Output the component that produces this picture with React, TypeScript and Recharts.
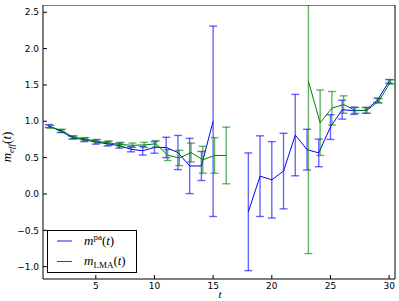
import { ComposedChart, Line, XAxis, YAxis, ErrorBar } from 'recharts';

// effective mass per time slice
const timeSlices = [1, 2, 3, 4, 5, 6, 7, 8, 9, 10, 11, 12, 13, 14, 15, 16, 17, 18, 19, 20, 21, 22, 23, 24, 25, 26, 27, 28, 29, 30];

const paMass = [0.935, 0.865, 0.775, 0.745, 0.715, 0.69, 0.665, 0.615, 0.595, 0.64, 0.64, 0.57, 0.385, 0.385, 1.0, null, null, -0.245, 0.245, 0.195, 0.315, 0.81, 0.61, 0.565, 0.92, 1.16, 1.145, 1.15, 1.29, 1.55];
const paError = [0.02, 0.02, 0.02, 0.025, 0.03, 0.03, 0.035, 0.035, 0.06, 0.08, 0.14, 0.235, 0.38, 0.2, 1.31, null, null, 0.81, 0.555, 0.525, 0.52, 0.56, 0.28, 0.19, 0.17, 0.13, 0.05, 0.04, 0.03, 0.025];

const lmaMass = [0.925, 0.87, 0.78, 0.755, 0.725, 0.7, 0.68, 0.67, 0.675, 0.69, 0.535, 0.495, 0.57, 0.47, 0.53, 0.53, null, null, null, null, null, null, 1.55, 0.98, 1.18, 1.23, 1.15, 1.15, 1.28, 1.54];
const lmaError = [0.02, 0.02, 0.02, 0.02, 0.025, 0.03, 0.03, 0.03, 0.035, 0.045, 0.075, 0.105, 0.13, 0.185, 0.245, 0.39, null, null, null, null, null, null, 2.37, 0.45, 0.23, 0.12, 0.04, 0.04, 0.03, 0.03];

const xTicks = [5, 10, 15, 20, 25, 30];
const yTicks = [-1, -0.5, 0, 0.5, 1, 1.5, 2, 2.5];

// the LMA points sit slightly to the right of the integer slices
const LMA_SHIFT = 0.12;

const paData = timeSlices.map((t, i) => ({ t, m: paMass[i], err: paError[i] }));
const lmaData = timeSlices.map((t, i) => ({ t: t + LMA_SHIFT, m: lmaMass[i], err: lmaError[i] }));

const BLUE = '#0000ff';
const GREEN = '#008000';
const X_DOMAIN: [number, number] = [0.5, 30.5];
const Y_DOMAIN: [number, number] = [-1.17, 2.6];

const tickFont = { fontSize: 9, fill: '#000', fontFamily: 'DejaVu Sans' };
const mathFont = { fontFamily: '"Liberation Serif", serif', fontSize: 13, color: '#000' };

function formatY(v: number): string {
  return (v < 0 ? '\u2212' : '') + Math.abs(v).toFixed(1);
}

function LegendRow({ color, thick, top, children }: { color: string; thick: number; top: number; children: React.ReactNode }) {
  return (
    <div style={{ position: 'absolute', left: 0, top, width: '100%', height: 16 }}>
      <div style={{ position: 'absolute', left: 9, top: 8 - thick / 2, width: 15, height: thick, background: color }} />
      <div style={{ position: 'absolute', left: 36, top: 0, lineHeight: '16px', whiteSpace: 'nowrap', ...mathFont }}>
        {children}
      </div>
    </div>
  );
}

export default function App() {
  return (
    <div style={{ position: 'absolute', left: 0, top: 0, width: 399, height: 301, background: '#fff' }}>
      <ComposedChart width={399} height={301} margin={{ top: 4, right: 3, bottom: 0, left: 0 }}>
        <XAxis
          xAxisId="b"
          type="number"
          dataKey="t"
          domain={X_DOMAIN}
          ticks={xTicks}
          allowDataOverflow
          height={22}
          tickSize={-4}
          tickMargin={8}
          tick={tickFont}
          stroke="#000"
        />
        <XAxis
          xAxisId="top"
          orientation="top"
          type="number"
          domain={X_DOMAIN}
          ticks={xTicks}
          allowDataOverflow
          height={1}
          tickSize={-4}
          tick={false}
          stroke="#000"
        />
        <YAxis
          yAxisId="l"
          type="number"
          domain={Y_DOMAIN}
          ticks={yTicks}
          allowDataOverflow
          width={43}
          tickSize={-4}
          tickMargin={8}
          tick={tickFont}
          tickFormatter={formatY}
          stroke="#000"
        />
        <YAxis
          yAxisId="r"
          orientation="right"
          type="number"
          domain={Y_DOMAIN}
          ticks={yTicks}
          allowDataOverflow
          width={1}
          tickSize={-4}
          tick={false}
          stroke="#000"
        />
        <Line
          data={paData}
          xAxisId="b"
          yAxisId="l"
          dataKey="m"
          stroke={BLUE}
          strokeWidth={1}
          dot={false}
          activeDot={false}
          isAnimationActive={false}
        >
          <ErrorBar dataKey="err" width={4} stroke={BLUE} strokeOpacity={0.6} strokeWidth={1.4} isAnimationActive={false} />
        </Line>
        <Line
          data={lmaData}
          xAxisId="b"
          yAxisId="l"
          dataKey="m"
          stroke={GREEN}
          strokeWidth={1}
          dot={false}
          activeDot={false}
          isAnimationActive={false}
        >
          <ErrorBar dataKey="err" width={4} stroke={GREEN} strokeOpacity={0.6} strokeWidth={1.4} isAnimationActive={false} />
        </Line>
      </ComposedChart>

      {/* hide the part of the t=23 error bar that runs past the top of the axes */}
      <div style={{ position: 'absolute', left: 0, top: 0, width: 399, height: 4.5, background: '#fff' }} />

      {/* y label */}
      <div
        style={{
          position: 'absolute',
          left: 7,
          top: 147,
          transform: 'translate(-50%, -50%) rotate(-90deg)',
          whiteSpace: 'nowrap',
          lineHeight: '14px',
          ...mathFont,
        }}
      >
        <i>m</i>
        <i style={{ fontSize: 9, position: 'relative', top: 3 }}>eff</i>
        (<i>t</i>)
      </div>

      {/* x label */}
      <div
        style={{
          position: 'absolute',
          left: 220,
          top: 289,
          transform: 'translateX(-50%)',
          ...mathFont,
          fontSize: 11,
          lineHeight: '11px',
        }}
      >
        <i>t</i>
      </div>

      {/* legend */}
      <div
        style={{
          position: 'absolute',
          left: 47,
          top: 230,
          width: 90,
          height: 43,
          border: '1px solid #000',
          background: '#fff',
          boxSizing: 'border-box',
        }}
      >
        <LegendRow color="#8c8cff" thick={2} top={2}>
          <i>m</i>
          <span style={{ fontSize: 9, position: 'relative', top: -5 }}>pa</span>
          (<i>t</i>)
        </LegendRow>
        <LegendRow color={GREEN} thick={1} top={22}>
          <i>m</i>
          <span style={{ fontSize: 9, position: 'relative', top: 3 }}>LMA</span>
          (<i>t</i>)
        </LegendRow>
      </div>
    </div>
  );
}
